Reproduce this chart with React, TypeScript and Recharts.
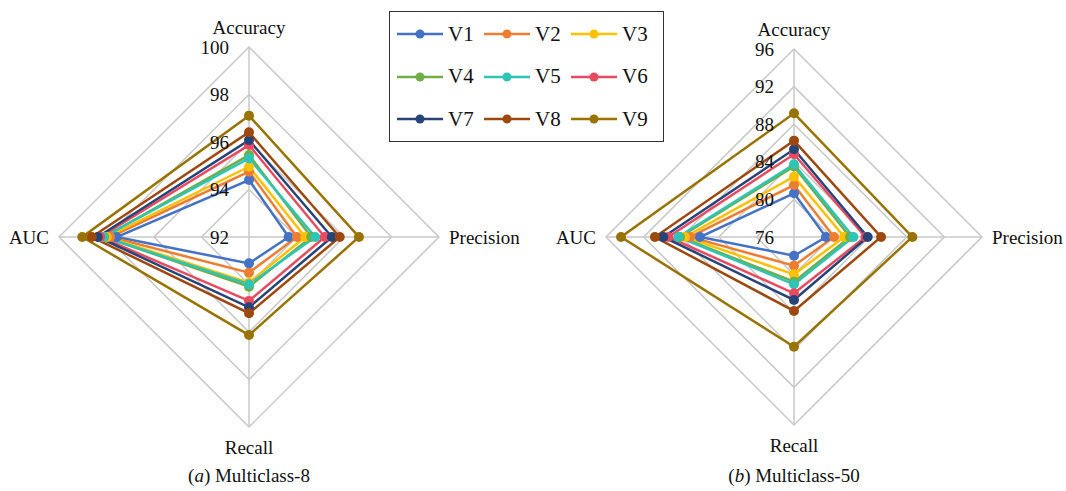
import React from "react";
import { RadarChart, Radar, PolarGrid, PolarAngleAxis, PolarRadiusAxis } from "recharts";

const metrics = ["Accuracy", "Precision", "Recall", "AUC"];
const seriesNames = ["V1", "V2", "V3", "V4", "V5", "V6", "V7", "V8", "V9"];
const colors = ["#4472C4", "#ED7D31", "#FFC000", "#70AD47", "#2EC4B6", "#E84A5F", "#264478", "#9E480E", "#997300"];

// Multiclass-8: [Accuracy, Precision, Recall, AUC]
const mc8V1 = [94.4, 93.67, 93.11, 97.57];
const mc8V2 = [94.75, 94.02, 93.5, 97.85];
const mc8V3 = [94.96, 94.37, 93.92, 97.99];
const mc8V4 = [95.45, 94.62, 94.09, 98.1];
const mc8V5 = [95.31, 94.79, 93.99, 98.13];
const mc8V6 = [95.87, 95.19, 94.69, 98.27];
const mc8V7 = [96.08, 95.49, 94.96, 98.37];
const mc8V8 = [96.41, 95.82, 95.21, 98.62];
const mc8V9 = [97.11, 96.63, 96.13, 99.02];

// Multiclass-50
const mc50V1 = [80.65, 79.4, 77.99, 86.0];
const mc50V2 = [81.53, 80.26, 79.05, 87.06];
const mc50V3 = [82.42, 81.35, 79.97, 87.6];
const mc50V4 = [83.5, 81.96, 80.75, 88.13];
const mc50V5 = [83.73, 82.31, 81.03, 88.3];
const mc50V6 = [84.8, 83.6, 81.99, 89.37];
const mc50V7 = [85.33, 83.84, 82.7, 89.9];
const mc50V8 = [86.25, 85.26, 83.87, 90.8];
const mc50V9 = [89.16, 88.59, 87.67, 94.4];

const mc8Ticks = [92, 94, 96, 98, 100];
const mc50Ticks = [76, 80, 84, 88, 92, 96];

const mc8Series = [mc8V1, mc8V2, mc8V3, mc8V4, mc8V5, mc8V6, mc8V7, mc8V8, mc8V9];
const mc50Series = [mc50V1, mc50V2, mc50V3, mc50V4, mc50V5, mc50V6, mc50V7, mc50V8, mc50V9];

const FONT = "'Liberation Serif', 'Times New Roman', Times, serif";

function buildRows(series: number[][]) {
  return metrics.map((m, i) => {
    const row: Record<string, string | number> = { metric: m };
    seriesNames.forEach((s, j) => {
      row[s] = series[j][i];
    });
    return row;
  });
}

const AngleTick = (props: any) => {
  const { x, y, payload, textAnchor } = props;
  let dx = 0;
  let dy = 0;
  if (textAnchor === "middle") {
    dy = payload.coordinate > 0 ? -12 : 12;
  } else if (textAnchor === "start") {
    dx = 2;
  } else {
    dx = -2;
  }
  return (
    <text x={x + dx} y={y + dy} textAnchor={textAnchor} dominantBaseline="central" fill="#111" style={{ fontFamily: FONT, fontSize: 19 }}>
      {payload.value}
    </text>
  );
};

const RadiusTick = (props: any) => {
  const { x, y, payload } = props;
  return (
    <text x={x - 20} y={y} textAnchor="end" dominantBaseline="central" fill="#111" style={{ fontFamily: FONT, fontSize: 19 }}>
      {payload.value}
    </text>
  );
};

const makeDot = (color: string) => (p: any) => (
  <circle key={`${p.index}-${color}`} cx={p.cx} cy={p.cy} r={5} fill={color} stroke="none" />
);

function Panel({ series, ticks, cx, radius }: { series: number[][]; ticks: number[]; cx: number; radius: number }) {
  const data = buildRows(series);
  return (
    <RadarChart width={533} height={491} data={data} cx={cx} cy={237} outerRadius={radius} margin={{ top: 0, right: 0, bottom: 0, left: 0 }}>
      <PolarGrid gridType="polygon" stroke="#c8c8c8" strokeWidth={1.5} />
      <PolarAngleAxis dataKey="metric" tick={AngleTick} tickLine={false} axisLine={false} />
      <PolarRadiusAxis
        angle={90}
        domain={[ticks[0], ticks[ticks.length - 1]]}
        ticks={ticks as any}
        tickCount={ticks.length}
        axisLine={false}
        tickLine={false}
        tick={RadiusTick}
      />
      {seriesNames.map((s, i) => (
        <Radar
          key={s}
          name={s}
          dataKey={s}
          stroke={colors[i]}
          strokeWidth={2.5}
          fill="none"
          fillOpacity={0}
          dot={makeDot(colors[i])}
          isAnimationActive={false}
        />
      ))}
    </RadarChart>
  );
}

function LegendBox() {
  return (
    <div
      style={{
        position: "absolute",
        left: 389,
        top: 11,
        width: 275,
        height: 131,
        border: "1px solid #333",
        boxSizing: "border-box",
        background: "#fff",
      }}
    >
      {seriesNames.map((s, i) => {
        const col = i % 3;
        const row = Math.floor(i / 3);
        return (
          <div
            key={s}
            style={{
              position: "absolute",
              left: 6 + col * 87,
              top: 22 + row * 42.5 - 14,
              height: 28,
              display: "flex",
              alignItems: "center",
            }}
          >
            <svg width={48} height={28}>
              <line x1={1} y1={14} x2={47} y2={14} stroke={colors[i]} strokeWidth={2.5} />
              <circle cx={24} cy={14} r={4.5} fill={colors[i]} />
            </svg>
            <span style={{ fontFamily: FONT, fontSize: 21, color: "#111", marginLeft: 4 }}>{s}</span>
          </div>
        );
      })}
    </div>
  );
}

export default function App() {
  const cap: React.CSSProperties = { position: "absolute", width: 240, top: 465, textAlign: "center", fontFamily: FONT, fontSize: 19, color: "#111" };
  return (
    <div style={{ position: "absolute", left: 0, top: 0, width: 1066, height: 491, background: "#fff", overflow: "hidden", fontFamily: FONT }}>
      <div style={{ position: "absolute", left: 0, top: 0 }}>
        <Panel series={mc8Series} ticks={mc8Ticks} cx={249} radius={190} />
      </div>
      <div style={{ position: "absolute", left: 533, top: 0 }}>
        <Panel series={mc50Series} ticks={mc50Ticks} cx={261} radius={188} />
      </div>
      <LegendBox />
      <div style={{ ...cap, left: 129 }}>
        (<i>a</i>) Multiclass-8
      </div>
      <div style={{ ...cap, left: 674 }}>
        (<i>b</i>) Multiclass-50
      </div>
    </div>
  );
}
